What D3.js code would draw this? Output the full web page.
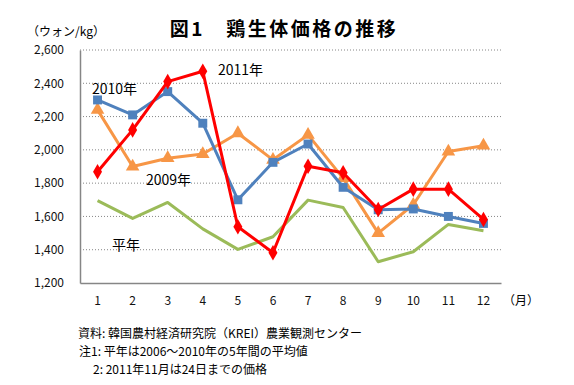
<!DOCTYPE html>
<html>
<head>
<meta charset="utf-8">
<script src="https://cdn.jsdelivr.net/npm/d3@7"></script>
<style>
  body { margin: 0; background: #fff; }
  text { font-family: "Noto Sans CJK JP", "Noto Sans", sans-serif; }
</style>
</head>
<body>
<svg id="chart" width="574" height="385"></svg>
<script>
// data
var months = ["1", "2", "3", "4", "5", "6", "7", "8", "9", "10", "11", "12"];
var yTicks = [1200, 1400, 1600, 1800, 2000, 2200, 2400, 2600];
var y2009 = [2240, 1900, 1950, 1975, 2100, 1940, 2090, 1830, 1500, 1670, 1990, 2025];
var y2010 = [2300, 2210, 2350, 2160, 1700, 1925, 2035, 1775, 1640, 1645, 1600, 1558];
var y2011 = [1868, 2120, 2410, 2472, 1538, 1382, 1902, 1862, 1642, 1764, 1764, 1582];
var yAvg = [1695, 1588, 1684, 1525, 1402, 1478, 1698, 1654, 1328, 1388, 1552, 1514];

var svg = d3.select("#chart");
var plotL = 80, plotR = 501, plotT = 50, plotB = 283;

var x = d3.scaleBand().domain(months).range([plotL, plotR]);
var y = d3.scaleLinear().domain([1200, 2600]).range([plotB, plotT]);
var cx = function(m) { return x(m) + x.bandwidth() / 2; };

// grid
svg.append("g").selectAll("line")
  .data(yTicks.slice(1))
  .enter().append("line")
  .attr("x1", plotL).attr("x2", plotR)
  .attr("y1", d => y(d)).attr("y2", d => y(d))
  .attr("stroke", "#868686")
  .attr("stroke-width", 1)
  .attr("stroke-dasharray", "1,2");

// axes
var yAxis = svg.append("g")
  .attr("transform", "translate(" + plotL + ",0)")
  .call(d3.axisLeft(y).tickValues(yTicks).tickSize(0).tickPadding(16).tickFormat(d3.format(",")));
yAxis.select(".domain").attr("stroke", "#868686").attr("stroke-width", 1.5);
yAxis.selectAll("text").attr("font-size", 12).attr("fill", "#111");

var xAxis = svg.append("g")
  .attr("transform", "translate(0," + plotB + ")")
  .call(d3.axisBottom(x).tickSize(0).tickPadding(13));
xAxis.select(".domain").attr("stroke", "#868686").attr("stroke-width", 1.5);
xAxis.selectAll("text").attr("font-size", 12).attr("fill", "#111");

// series
var line = d3.line()
  .x((d, i) => cx(months[i]))
  .y(d => y(d));

var series = [
  { name: "avg", values: yAvg, color: "#9BBB59", marker: null },
  { name: "2009", values: y2009, color: "#F79646", marker: d3.symbolTriangle },
  { name: "2010", values: y2010, color: "#4F81BD", marker: d3.symbolSquare },
  { name: "2011", values: y2011, color: "#FF0000", marker: d3.symbolDiamond }
];

series.forEach(function(s) {
  svg.append("path")
    .datum(s.values)
    .attr("d", line)
    .attr("fill", "none")
    .attr("stroke", s.color)
    .attr("stroke-width", 3)
    .attr("stroke-linejoin", "round");
  if (s.marker) {
    svg.append("g").selectAll("path")
      .data(s.values)
      .enter().append("path")
      .attr("d", d3.symbol().type(s.marker).size(s.marker === d3.symbolDiamond ? 70 : 80))
      .attr("transform", (d, i) => "translate(" + cx(months[i]) + "," + y(d) + ")")
      .attr("fill", s.color);
  }
});

// title and units
svg.append("text")
  .attr("x", 284).attr("y", 36)
  .attr("text-anchor", "middle")
  .attr("font-size", 19).attr("font-weight", "bold")
  .attr("letter-spacing", 2.5)
  .text("図1　鶏生体価格の推移");

svg.append("text")
  .attr("x", 27).attr("y", 36)
  .attr("font-size", 12)
  .text("（ウォン/kg）");

svg.append("text")
  .attr("x", 503).attr("y", 305)
  .attr("font-size", 12)
  .text("（月）");

// series labels
var labels = [
  { t: "2010年", x: 92, y: 94 },
  { t: "2011年", x: 218, y: 75 },
  { t: "2009年", x: 146, y: 185 },
  { t: "平年", x: 112, y: 250 }
];
svg.append("g").selectAll("text")
  .data(labels)
  .enter().append("text")
  .attr("x", d => d.x).attr("y", d => d.y)
  .attr("font-size", 14)
  .text(d => d.t);

// notes
var notes = [
  { t: "資料: 韓国農村経済研究院（KREI）農業観測センター", x: 78, y: 338 },
  { t: "注1: 平年は2006～2010年の5年間の平均値", x: 79, y: 356 },
  { t: "2: 2011年11月は24日までの価格", x: 93, y: 374 }
];
svg.append("g").selectAll("text")
  .data(notes)
  .enter().append("text")
  .attr("x", d => d.x).attr("y", d => d.y)
  .attr("font-size", 12)
  .text(d => d.t);
</script>
</body>
</html>
